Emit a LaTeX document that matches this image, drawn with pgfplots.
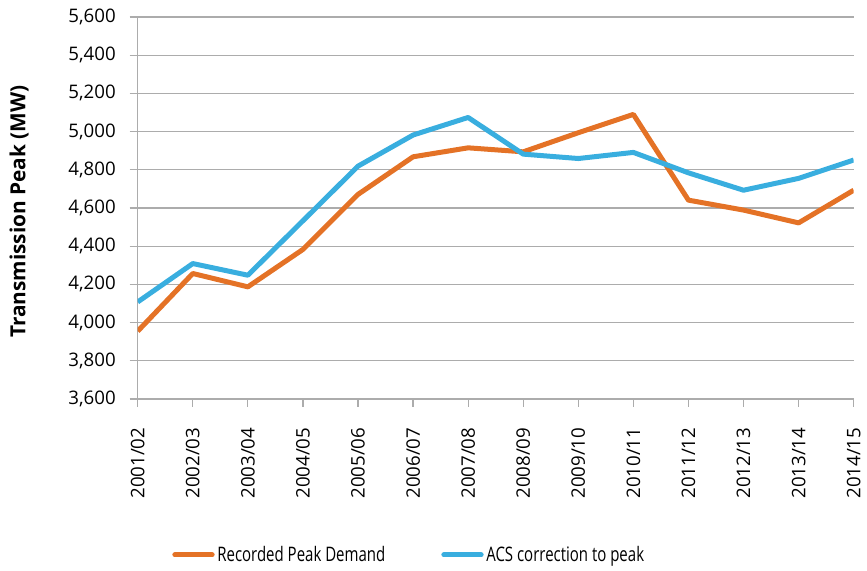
\documentclass[border=0pt]{standalone}
\usepackage{fontspec}
\setmainfont{Open Sans}
\usepackage{pgfplots}
\pgfplotsset{compat=1.18}
\definecolor{peakorange}{RGB}{228,114,38}
\definecolor{acsblue}{RGB}{57,174,223}
\definecolor{gridgray}{RGB}{172,172,172}
\begin{document}
\begin{tikzpicture}
\useasboundingbox (-103.3pt,-129pt) rectangle (547pt,299.25pt);
\begin{axis}[
  at={(0,0)}, anchor=south west,
  width=537pt, height=286.5pt, scale only axis,
  xmin=0, xmax=13, ymin=3600, ymax=5600,
  ytick={3600,3800,...,5600},
  xtick={0,...,13},
  xticklabels={2001/02,2002/03,2003/04,2004/05,2005/06,2006/07,2007/08,2008/09,2009/10,2010/11,2011/12,2012/13,2013/14,2014/15},
  axis x line=bottom, axis y line=left,
  axis line style={gridgray, line width=0.9pt, -},
  tick align=outside, major tick length=6pt,
  tick style={gridgray, line width=0.9pt},
  ymajorgrids, grid style={gridgray, line width=0.9pt},
  /pgf/number format/assume math mode=true,
  /pgf/number format/1000 sep={,},
  yticklabel style={font=\fontsize{14}{16}\selectfont, xshift=-7pt},
  xticklabel style={font=\fontsize{14}{16}\selectfont, rotate=90, anchor=east, xshift=-12pt},
  ylabel={\textbf{Transmission Peak (MW)}},
  ylabel style={font=\fontsize{15.6}{18}\selectfont, at={(axis description cs:-0.1657,0.49)}, anchor=center, rotate=0},
  legend columns=2,
  legend style={draw=none, at={(0.3797,-0.408)}, anchor=center, font=\fontsize{15}{18}\selectfont,
    /tikz/every even column/.append style={column sep=40pt}},
  legend image code/.code={\draw[line width=3.75pt, line cap=round] (0pt,0pt) -- (28pt,0pt);},
]
\addplot[peakorange, line width=3.75pt, line join=round] coordinates {
(0,3955) (1,4257) (2,4187) (3,4383) (4,4671) (5,4868) (6,4915)
(7,4894) (8,4994) (9,5090) (10,4641) (11,4589) (12,4522) (13,4693)};
\addlegendentry{\scalebox{0.75}[1]{Recorded Peak Demand}}
\addplot[acsblue, line width=3.75pt, line join=round] coordinates {
(0,4108) (1,4309) (2,4248) (3,4533) (4,4819) (5,4982) (6,5074)
(7,4882) (8,4859) (9,4891) (10,4784) (11,4693) (12,4755) (13,4851)};
\addlegendentry{\scalebox{0.75}[1]{ACS correction to peak}}
\end{axis}
\end{tikzpicture}
\end{document}
